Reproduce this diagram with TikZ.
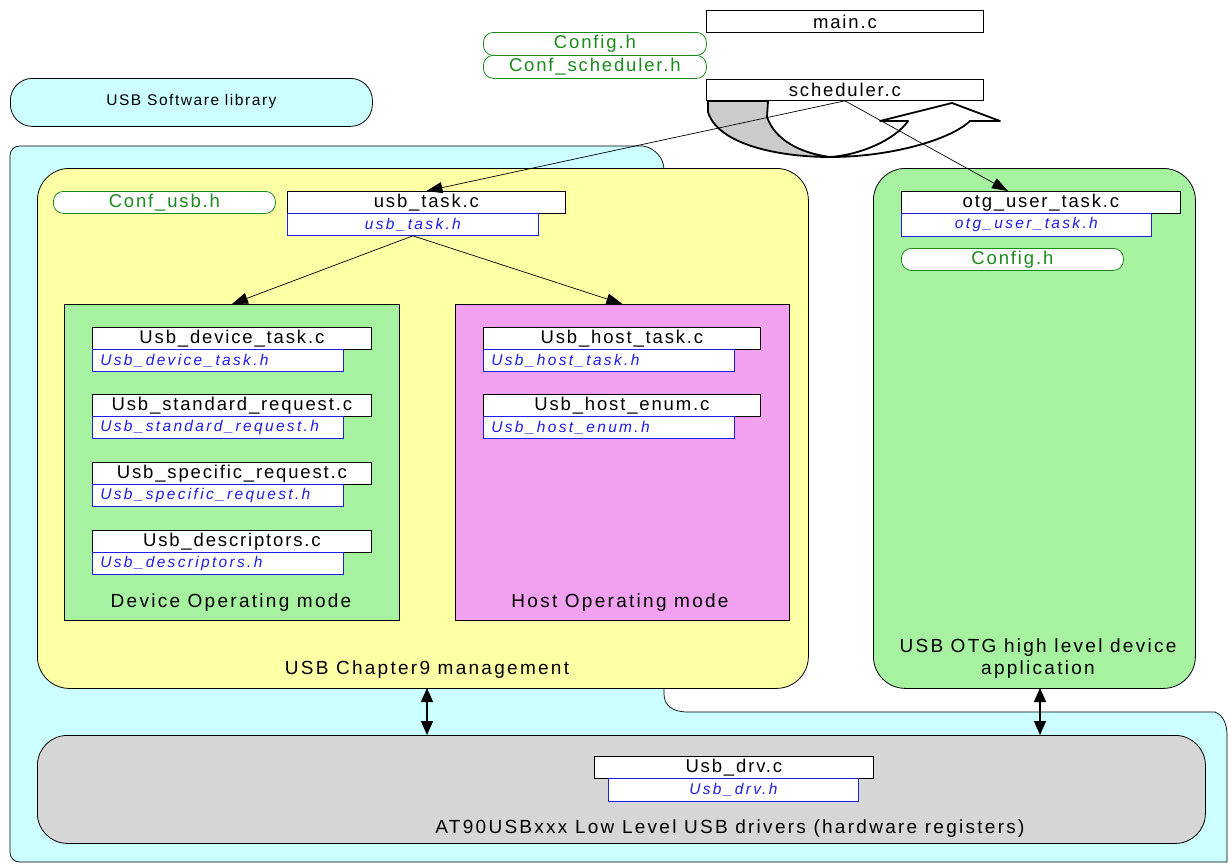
\documentclass[tikz,border=0pt]{standalone}
\usepackage{fontspec}
\setmainfont{Liberation Sans}
\newfontfamily\cfont[LetterSpace=10]{Liberation Sans}
\newfontfamily\lfont[LetterSpace=12]{Liberation Sans}
\newfontfamily\hfont[LetterSpace=15]{Liberation Sans}
\usetikzlibrary{arrows.meta}
\definecolor{cyanbg}{HTML}{CCFFFF}
\definecolor{yel}{HTML}{FFFFA6}
\definecolor{grn}{HTML}{A6F2A0}
\definecolor{mag}{HTML}{F2A0F0}
\definecolor{gry}{HTML}{D6D6D6}
\definecolor{cfg}{HTML}{1A8A1A}
\definecolor{hblue}{HTML}{1E1EE6}
\newcommand\ftc{\cfont\fontsize{18.5}{22}\selectfont}
\newcommand\ftl{\lfont\fontsize{19}{22}\selectfont}
\newcommand\fth{\hfont\itshape\fontsize{15.5}{18}\selectfont}
\tikzset{
  region/.style={draw=black, line width=0.8pt, anchor=north west, inner sep=0},
  cfile/.style={draw=black, line width=0.8pt, fill=white, anchor=north west, minimum width=#1, minimum height=22, inner sep=0, font=\ftc},
  hfile/.style={draw=hblue, line width=0.8pt, fill=white, anchor=north west, minimum width=#1, minimum height=22, inner sep=0, text=hblue, font=\fth},
  hfileL/.style={draw=hblue, line width=0.8pt, fill=white, anchor=north west, text width=235pt, align=left, inner xsep=8pt, inner ysep=0, minimum height=22, text=hblue, font=\fth},
  cfgbox/.style={draw=cfg, line width=0.8pt, fill=white, rounded corners=10, anchor=north west, minimum width=#1, minimum height=22, inner sep=0, text=cfg, font=\ftc},
  lbl/.style={font=\ftl, align=center},
  conn/.style={line width=0.7pt, -{Triangle[length=16pt,width=11pt]}},
  dconn/.style={line width=1.4pt, {Triangle[length=14pt,width=12pt]}-{Triangle[length=14pt,width=12pt]}},
  sarrow/.style={draw=black, line width=1.8pt, line join=round}
}
\begin{document}
\begin{tikzpicture}[x=1pt, y=-1pt]
\useasboundingbox (0,0) rectangle (1228,865);
% cyan library shape
\path[draw=black, line width=0.7pt, fill=cyanbg] (10,156) .. controls (10,150) and (14,146) .. (20,146) -- (643,146) .. controls (655,148) and (664,158) .. (664,170) -- (664,694) .. controls (664,705) and (672,712) .. (688,712) -- (1215,712) .. controls (1222,715) and (1227,722) .. (1227,735) -- (1227,862) -- (20,862) .. controls (14,862) and (10,858) .. (10,852) -- cycle;
\node[region, fill=cyanbg, rounded corners=22, minimum width=362, minimum height=48] (lib) at (10,78) {};
\node[font=\cfont\fontsize{15.5}{18}\selectfont] (libt) at ([yshift=1]lib.center) {USB Software library};
% big regions
\node[region, fill=yel, rounded corners=32, minimum width=771, minimum height=520] (ch9) at (37,168) {};
\node[region, fill=grn, rounded corners=32, minimum width=322, minimum height=520] (otg) at (873,168) {};
\node[region, fill=gry, rounded corners=30, minimum width=1168, minimum height=108] (drv) at (37,735) {};
\node[region, fill=grn, minimum width=335, minimum height=316] (dev) at (64,304) {};
\node[region, fill=mag, minimum width=334, minimum height=316] (host) at (455,304) {};
% labels
\node[lbl] (ch9t) at (427,670) {USB Chapter9 management};
\node[lbl] (otgt) at (1038,659) {USB OTG high level device\\application};
\node[lbl] (drvt) at (730,829) {AT90USBxxx Low Level USB drivers (hardware registers)};
\node[lbl] (devt) at (231,603) {Device Operating mode};
\node[lbl] (hostt) at (620,603) {Host Operating mode};
% top files
\node[cfile=277] (mainc) at (706,10) {main.c};
\node[cfgbox=223, minimum height=23] (cfg1) at (483,32) {Config.h};
\node[cfgbox=223, minimum height=23] (cfg2) at (483,55) {Conf\_scheduler.h};
\node[cfile=277, minimum height=21] (schc) at (706,79) {scheduler.c};
% usb task
\node[cfgbox=222] (cfgusb) at (53,191) {Conf\_usb.h};
\node[cfile=278] (utc) at (287,191) {usb\_task.c};
\node[hfile=251] (uth) at (287,213) {usb\_task.h};
% otg
\node[cfile=279] (otgc) at (901,191) {otg\_user\_task.c};
\node[hfile=250, minimum height=23] (otgh) at (901,213) {otg\_user\_task.h};
\node[cfgbox=222] (cfg3) at (901,248) {Config.h};
% device files
\node[cfile=279] (d1c) at (92,327) {Usb\_device\_task.c};
\node[hfileL] (d1h) at (92,349) {Usb\_device\_task.h};
\node[cfile=279] (d2c) at (92,394) {Usb\_standard\_request.c};
\node[hfileL] (d2h) at (92,416) {Usb\_standard\_request.h};
\node[cfile=279] (d3c) at (92,462) {Usb\_specific\_request.c};
\node[hfileL] (d3h) at (92,484) {Usb\_specific\_request.h};
\node[cfile=279] (d4c) at (92,530) {Usb\_descriptors.c};
\node[hfileL] (d4h) at (92,552) {Usb\_descriptors.h};
% host files
\node[cfile=277] (h1c) at (483,327) {Usb\_host\_task.c};
\node[hfileL] (h1h) at (483,349) {Usb\_host\_task.h};
\node[cfile=277] (h2c) at (483,394) {Usb\_host\_enum.c};
\node[hfileL] (h2h) at (483,416) {Usb\_host\_enum.h};
% driver files
\node[cfile=279] (drvc) at (594,756) {Usb\_drv.c};
\node[hfile=250, minimum height=23] (drvh) at (608,778) {Usb\_drv.h};
% scheduler loop arrow
\path[sarrow, fill=gry!95!black] (708,101) -- (768,101) -- (767,117) .. controls (775,140) and (800,153) .. (830,157) .. controls (780,157) and (718,145) .. (708,112) -- cycle;
\path[sarrow, fill=white] (830,157) .. controls (890,157) and (950,140) .. (970,121) -- (1000,121) -- (952,103) -- (880,121) -- (908,121) .. controls (895,140) and (860,155) .. (830,157) -- cycle;
% connectors
\coordinate (otgin) at (1008,191);
\draw[conn] (schc.south) -- (utc.north);
\draw[conn] (schc.south) -- (otgin);
\draw[conn] (uth.south) -- (dev.north);
\draw[conn] (uth.south) -- (host.north);
\coordinate (a1) at (427,688);
\coordinate (b1) at (427,735);
\coordinate (a2) at (1040,688);
\coordinate (b2) at (1040,735);
\draw[dconn] (a1) -- (b1);
\draw[dconn] (a2) -- (b2);
\end{tikzpicture}
\end{document}
